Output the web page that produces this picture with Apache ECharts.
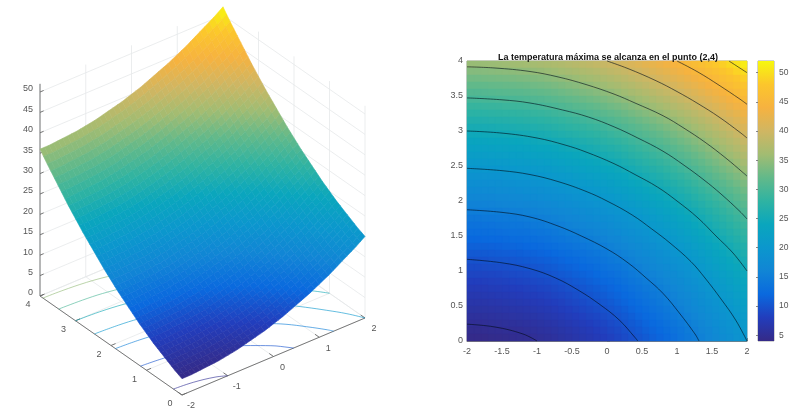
<!DOCTYPE html>
<html lang="en">
<head>
<meta charset="UTF-8">
<title>Temperatura</title>
<script src="https://cdn.jsdelivr.net/npm/echarts@6/dist/echarts.min.js"></script>
<style>
  html, body { margin: 0; padding: 0; background: #fff; }
  #chart { width: 800px; height: 419px; }
</style>
</head>
<body>
<div id="chart"></div>
<script>
const chartTitle = 'La temperatura máxima se alcanza en el punto (2,4)'
const xs = [-2,-1.9,-1.8,-1.7,-1.6,-1.5,-1.4,-1.3,-1.2,-1.1,-1,-0.9,-0.8,-0.7,-0.6,-0.5,-0.4,-0.3,-0.2,-0.1,0,0.1,0.2,0.3,0.4,0.5,0.6,0.7,0.8,0.9,1,1.1,1.2,1.3,1.4,1.5,1.6,1.7,1.8,1.9,2]
const ys = [0,0.1,0.2,0.3,0.4,0.5,0.6,0.7,0.8,0.9,1,1.1,1.2,1.3,1.4,1.5,1.6,1.7,1.8,1.9,2,2.1,2.2,2.3,2.4,2.5,2.6,2.7,2.8,2.9,3,3.1,3.2,3.3,3.4,3.5,3.6,3.7,3.8,3.9,4]
// one row per y
const temps = [
  [4,4,4,4.1,4.2,4.3,4.4,4.5,4.6,4.8,5,5.2,5.4,5.7,6,6.3,6.6,6.9,7.2,7.6,8,8.4,8.8,9.3,9.8,10.3,10.8,11.3,11.8,12.4,13,13.6,14.2,14.9,15.6,16.3,17,17.7,18.4,19.2,20],
  [4.4,4.4,4.4,4.5,4.6,4.7,4.8,4.9,5,5.2,5.4,5.6,5.8,6.1,6.4,6.7,7,7.3,7.6,8,8.4,8.8,9.2,9.7,10.2,10.7,11.2,11.7,12.2,12.8,13.4,14,14.6,15.3,16,16.7,17.4,18.1,18.8,19.6,20.4],
  [4.8,4.8,4.8,4.9,5,5.1,5.2,5.3,5.4,5.6,5.8,6,6.2,6.5,6.8,7.1,7.4,7.7,8,8.4,8.8,9.2,9.6,10.1,10.6,11.1,11.6,12.1,12.6,13.2,13.8,14.4,15,15.7,16.4,17.1,17.8,18.5,19.2,20,20.8],
  [5.3,5.3,5.3,5.4,5.5,5.6,5.7,5.8,5.9,6.1,6.3,6.5,6.7,7,7.3,7.6,7.9,8.2,8.5,8.9,9.3,9.7,10.1,10.6,11.1,11.6,12.1,12.6,13.1,13.7,14.3,14.9,15.5,16.2,16.9,17.6,18.3,19,19.7,20.5,21.3],
  [5.8,5.8,5.8,5.9,6,6.1,6.2,6.3,6.4,6.6,6.8,7,7.2,7.5,7.8,8.1,8.4,8.7,9,9.4,9.8,10.2,10.6,11.1,11.6,12.1,12.6,13.1,13.6,14.2,14.8,15.4,16,16.7,17.4,18.1,18.8,19.5,20.2,21,21.8],
  [6.3,6.3,6.3,6.4,6.5,6.6,6.7,6.8,6.9,7.1,7.3,7.5,7.7,8,8.3,8.6,8.9,9.2,9.5,9.9,10.3,10.7,11.1,11.6,12.1,12.6,13.1,13.6,14.1,14.7,15.3,15.9,16.5,17.2,17.9,18.6,19.3,20,20.7,21.5,22.3],
  [6.8,6.8,6.8,6.9,7,7.1,7.2,7.3,7.4,7.6,7.8,8,8.2,8.5,8.8,9.1,9.4,9.7,10,10.4,10.8,11.2,11.6,12.1,12.6,13.1,13.6,14.1,14.6,15.2,15.8,16.4,17,17.7,18.4,19.1,19.8,20.5,21.2,22,22.8],
  [7.3,7.3,7.3,7.4,7.5,7.6,7.7,7.8,7.9,8.1,8.3,8.5,8.7,9,9.3,9.6,9.9,10.2,10.5,10.9,11.3,11.7,12.1,12.6,13.1,13.6,14.1,14.6,15.1,15.7,16.3,16.9,17.5,18.2,18.9,19.6,20.3,21,21.7,22.5,23.3],
  [7.8,7.8,7.8,7.9,8,8.1,8.2,8.3,8.4,8.6,8.8,9,9.2,9.5,9.8,10.1,10.4,10.7,11,11.4,11.8,12.2,12.6,13.1,13.6,14.1,14.6,15.1,15.6,16.2,16.8,17.4,18,18.7,19.4,20.1,20.8,21.5,22.2,23,23.8],
  [8.4,8.4,8.4,8.5,8.6,8.7,8.8,8.9,9,9.2,9.4,9.6,9.8,10.1,10.4,10.7,11,11.3,11.6,12,12.4,12.8,13.2,13.7,14.2,14.7,15.2,15.7,16.2,16.8,17.4,18,18.6,19.3,20,20.7,21.4,22.1,22.8,23.6,24.4],
  [9,9,9,9.1,9.2,9.3,9.4,9.5,9.6,9.8,10,10.2,10.4,10.7,11,11.3,11.6,11.9,12.2,12.6,13,13.4,13.8,14.3,14.8,15.3,15.8,16.3,16.8,17.4,18,18.6,19.2,19.9,20.6,21.3,22,22.7,23.4,24.2,25],
  [9.6,9.6,9.6,9.7,9.8,9.9,10,10.1,10.2,10.4,10.6,10.8,11,11.3,11.6,11.9,12.2,12.5,12.8,13.2,13.6,14,14.4,14.9,15.4,15.9,16.4,16.9,17.4,18,18.6,19.2,19.8,20.5,21.2,21.9,22.6,23.3,24,24.8,25.6],
  [10.2,10.2,10.2,10.3,10.4,10.5,10.6,10.7,10.8,11,11.2,11.4,11.6,11.9,12.2,12.5,12.8,13.1,13.4,13.8,14.2,14.6,15,15.5,16,16.5,17,17.5,18,18.6,19.2,19.8,20.4,21.1,21.8,22.5,23.2,23.9,24.6,25.4,26.2],
  [10.9,10.9,10.9,11,11.1,11.2,11.3,11.4,11.5,11.7,11.9,12.1,12.3,12.6,12.9,13.2,13.5,13.8,14.1,14.5,14.9,15.3,15.7,16.2,16.7,17.2,17.7,18.2,18.7,19.3,19.9,20.5,21.1,21.8,22.5,23.2,23.9,24.6,25.3,26.1,26.9],
  [11.6,11.6,11.6,11.7,11.8,11.9,12,12.1,12.2,12.4,12.6,12.8,13,13.3,13.6,13.9,14.2,14.5,14.8,15.2,15.6,16,16.4,16.9,17.4,17.9,18.4,18.9,19.4,20,20.6,21.2,21.8,22.5,23.2,23.9,24.6,25.3,26,26.8,27.6],
  [12.3,12.3,12.3,12.4,12.5,12.6,12.7,12.8,12.9,13.1,13.3,13.5,13.7,14,14.3,14.6,14.9,15.2,15.5,15.9,16.3,16.7,17.1,17.6,18.1,18.6,19.1,19.6,20.1,20.7,21.3,21.9,22.5,23.2,23.9,24.6,25.3,26,26.7,27.5,28.3],
  [13,13,13,13.1,13.2,13.3,13.4,13.5,13.6,13.8,14,14.2,14.4,14.7,15,15.3,15.6,15.9,16.2,16.6,17,17.4,17.8,18.3,18.8,19.3,19.8,20.3,20.8,21.4,22,22.6,23.2,23.9,24.6,25.3,26,26.7,27.4,28.2,29],
  [13.7,13.7,13.7,13.8,13.9,14,14.1,14.2,14.3,14.5,14.7,14.9,15.1,15.4,15.7,16,16.3,16.6,16.9,17.3,17.7,18.1,18.5,19,19.5,20,20.5,21,21.5,22.1,22.7,23.3,23.9,24.6,25.3,26,26.7,27.4,28.1,28.9,29.7],
  [14.4,14.4,14.4,14.5,14.6,14.7,14.8,14.9,15,15.2,15.4,15.6,15.8,16.1,16.4,16.7,17,17.3,17.6,18,18.4,18.8,19.2,19.7,20.2,20.7,21.2,21.7,22.2,22.8,23.4,24,24.6,25.3,26,26.7,27.4,28.1,28.8,29.6,30.4],
  [15.2,15.2,15.2,15.3,15.4,15.5,15.6,15.7,15.8,16,16.2,16.4,16.6,16.9,17.2,17.5,17.8,18.1,18.4,18.8,19.2,19.6,20,20.5,21,21.5,22,22.5,23,23.6,24.2,24.8,25.4,26.1,26.8,27.5,28.2,28.9,29.6,30.4,31.2],
  [16,16,16,16.1,16.2,16.3,16.4,16.5,16.6,16.8,17,17.2,17.4,17.7,18,18.3,18.6,18.9,19.2,19.6,20,20.4,20.8,21.3,21.8,22.3,22.8,23.3,23.8,24.4,25,25.6,26.2,26.9,27.6,28.3,29,29.7,30.4,31.2,32],
  [16.8,16.8,16.8,16.9,17,17.1,17.2,17.3,17.4,17.6,17.8,18,18.2,18.5,18.8,19.1,19.4,19.7,20,20.4,20.8,21.2,21.6,22.1,22.6,23.1,23.6,24.1,24.6,25.2,25.8,26.4,27,27.7,28.4,29.1,29.8,30.5,31.2,32,32.8],
  [17.6,17.6,17.6,17.7,17.8,17.9,18,18.1,18.2,18.4,18.6,18.8,19,19.3,19.6,19.9,20.2,20.5,20.8,21.2,21.6,22,22.4,22.9,23.4,23.9,24.4,24.9,25.4,26,26.6,27.2,27.8,28.5,29.2,29.9,30.6,31.3,32,32.8,33.6],
  [18.5,18.5,18.5,18.6,18.7,18.8,18.9,19,19.1,19.3,19.5,19.7,19.9,20.2,20.5,20.8,21.1,21.4,21.7,22.1,22.5,22.9,23.3,23.8,24.3,24.8,25.3,25.8,26.3,26.9,27.5,28.1,28.7,29.4,30.1,30.8,31.5,32.2,32.9,33.7,34.5],
  [19.4,19.4,19.4,19.5,19.6,19.7,19.8,19.9,20,20.2,20.4,20.6,20.8,21.1,21.4,21.7,22,22.3,22.6,23,23.4,23.8,24.2,24.7,25.2,25.7,26.2,26.7,27.2,27.8,28.4,29,29.6,30.3,31,31.7,32.4,33.1,33.8,34.6,35.4],
  [20.3,20.3,20.3,20.4,20.5,20.6,20.7,20.8,20.9,21.1,21.3,21.5,21.7,22,22.3,22.6,22.9,23.2,23.5,23.9,24.3,24.7,25.1,25.6,26.1,26.6,27.1,27.6,28.1,28.7,29.3,29.9,30.5,31.2,31.9,32.6,33.3,34,34.7,35.5,36.3],
  [21.2,21.2,21.2,21.3,21.4,21.5,21.6,21.7,21.8,22,22.2,22.4,22.6,22.9,23.2,23.5,23.8,24.1,24.4,24.8,25.2,25.6,26,26.5,27,27.5,28,28.5,29,29.6,30.2,30.8,31.4,32.1,32.8,33.5,34.2,34.9,35.6,36.4,37.2],
  [22.1,22.1,22.1,22.2,22.3,22.4,22.5,22.6,22.7,22.9,23.1,23.3,23.5,23.8,24.1,24.4,24.7,25,25.3,25.7,26.1,26.5,26.9,27.4,27.9,28.4,28.9,29.4,29.9,30.5,31.1,31.7,32.3,33,33.7,34.4,35.1,35.8,36.5,37.3,38.1],
  [23,23,23,23.1,23.2,23.3,23.4,23.5,23.6,23.8,24,24.2,24.4,24.7,25,25.3,25.6,25.9,26.2,26.6,27,27.4,27.8,28.3,28.8,29.3,29.8,30.3,30.8,31.4,32,32.6,33.2,33.9,34.6,35.3,36,36.7,37.4,38.2,39],
  [24,24,24,24.1,24.2,24.3,24.4,24.5,24.6,24.8,25,25.2,25.4,25.7,26,26.3,26.6,26.9,27.2,27.6,28,28.4,28.8,29.3,29.8,30.3,30.8,31.3,31.8,32.4,33,33.6,34.2,34.9,35.6,36.3,37,37.7,38.4,39.2,40],
  [25,25,25,25.1,25.2,25.3,25.4,25.5,25.6,25.8,26,26.2,26.4,26.7,27,27.3,27.6,27.9,28.2,28.6,29,29.4,29.8,30.3,30.8,31.3,31.8,32.3,32.8,33.4,34,34.6,35.2,35.9,36.6,37.3,38,38.7,39.4,40.2,41],
  [26,26,26,26.1,26.2,26.3,26.4,26.5,26.6,26.8,27,27.2,27.4,27.7,28,28.3,28.6,28.9,29.2,29.6,30,30.4,30.8,31.3,31.8,32.3,32.8,33.3,33.8,34.4,35,35.6,36.2,36.9,37.6,38.3,39,39.7,40.4,41.2,42],
  [27,27,27,27.1,27.2,27.3,27.4,27.5,27.6,27.8,28,28.2,28.4,28.7,29,29.3,29.6,29.9,30.2,30.6,31,31.4,31.8,32.3,32.8,33.3,33.8,34.3,34.8,35.4,36,36.6,37.2,37.9,38.6,39.3,40,40.7,41.4,42.2,43],
  [28.1,28.1,28.1,28.2,28.3,28.4,28.5,28.6,28.7,28.9,29.1,29.3,29.5,29.8,30.1,30.4,30.7,31,31.3,31.7,32.1,32.5,32.9,33.4,33.9,34.4,34.9,35.4,35.9,36.5,37.1,37.7,38.3,39,39.7,40.4,41.1,41.8,42.5,43.3,44.1],
  [29.2,29.2,29.2,29.3,29.4,29.5,29.6,29.7,29.8,30,30.2,30.4,30.6,30.9,31.2,31.5,31.8,32.1,32.4,32.8,33.2,33.6,34,34.5,35,35.5,36,36.5,37,37.6,38.2,38.8,39.4,40.1,40.8,41.5,42.2,42.9,43.6,44.4,45.2],
  [30.3,30.3,30.3,30.4,30.5,30.6,30.7,30.8,30.9,31.1,31.3,31.5,31.7,32,32.3,32.6,32.9,33.2,33.5,33.9,34.3,34.7,35.1,35.6,36.1,36.6,37.1,37.6,38.1,38.7,39.3,39.9,40.5,41.2,41.9,42.6,43.3,44,44.7,45.5,46.3],
  [31.4,31.4,31.4,31.5,31.6,31.7,31.8,31.9,32,32.2,32.4,32.6,32.8,33.1,33.4,33.7,34,34.3,34.6,35,35.4,35.8,36.2,36.7,37.2,37.7,38.2,38.7,39.2,39.8,40.4,41,41.6,42.3,43,43.7,44.4,45.1,45.8,46.6,47.4],
  [32.5,32.5,32.5,32.6,32.7,32.8,32.9,33,33.1,33.3,33.5,33.7,33.9,34.2,34.5,34.8,35.1,35.4,35.7,36.1,36.5,36.9,37.3,37.8,38.3,38.8,39.3,39.8,40.3,40.9,41.5,42.1,42.7,43.4,44.1,44.8,45.5,46.2,46.9,47.7,48.5],
  [33.6,33.6,33.6,33.7,33.8,33.9,34,34.1,34.2,34.4,34.6,34.8,35,35.3,35.6,35.9,36.2,36.5,36.8,37.2,37.6,38,38.4,38.9,39.4,39.9,40.4,40.9,41.4,42,42.6,43.2,43.8,44.5,45.2,45.9,46.6,47.3,48,48.8,49.6],
  [34.8,34.8,34.8,34.9,35,35.1,35.2,35.3,35.4,35.6,35.8,36,36.2,36.5,36.8,37.1,37.4,37.7,38,38.4,38.8,39.2,39.6,40.1,40.6,41.1,41.6,42.1,42.6,43.2,43.8,44.4,45,45.7,46.4,47.1,47.8,48.5,49.2,50,50.8],
  [36,36,36,36.1,36.2,36.3,36.4,36.5,36.6,36.8,37,37.2,37.4,37.7,38,38.3,38.6,38.9,39.2,39.6,40,40.4,40.8,41.3,41.8,42.3,42.8,43.3,43.8,44.4,45,45.6,46.2,46.9,47.6,48.3,49,49.7,50.4,51.2,52]
]
const contourLevels = [5, 10, 15, 20, 25, 30, 35, 40, 45, 50]
const tickX3d = [-2, -1, 0, 1, 2]
const tickY3d = [0, 1, 2, 3, 4]
const tickZ3d = [0, 5, 10, 15, 20, 25, 30, 35, 40, 45, 50]
const colorbarTicks = [5, 10, 15, 20, 25, 30, 35, 40, 45, 50]
const parula = ['#352a87', '#223dbc', '#0a69de', '#1185d5', '#0b97cd', '#0aa6bd', '#2fb3a2', '#62b98a', '#a2bc72', '#d0b662', '#f6b240', '#fcc62c', '#f6f80e']
const tempMin = 4
const tempMax = 52

const font = '"Liberation Sans", Arial, sans-serif'
const textColor = '#555'
const gridColor = '#e6e8ea'
const axisColor = '#6a6a6a'

function colorOf (t) {
  return echarts.color.lerp((t - tempMin) / (tempMax - tempMin), parula)
}

// the 3d box is an orthographic view, flattened on to a screen sized plane
function project (x, y, z) {
  return [
    182 + (x + 2) * 45.75 - y * 35.5,
    395 - (x + 2) * 19.25 - y * 24.75 - z * 4.08
  ]
}

// marching squares over the table, returns the crossings along one level
function contourPoints (level) {
  const seen = {}
  for (let j = 0; j < ys.length; j++) {
    for (let i = 0; i < xs.length; i++) {
      const v = temps[j][i]
      if (i + 1 < xs.length && (v >= level) !== (temps[j][i + 1] >= level)) {
        const f = (level - v) / (temps[j][i + 1] - v)
        const px = xs[i] + f * (xs[i + 1] - xs[i])
        seen[px.toFixed(3) + ',' + ys[j]] = [px, ys[j]]
      }
      if (j + 1 < ys.length && (v >= level) !== (temps[j + 1][i] >= level)) {
        const f = (level - v) / (temps[j + 1][i] - v)
        const py = ys[j] + f * (ys[j + 1] - ys[j])
        seen[xs[i] + ',' + py.toFixed(3)] = [xs[i], py]
      }
    }
  }
  // the curves all fall to the right, so this walks along them
  const pts = Object.values(seen).sort((a, b) => (a[0] - a[1]) - (b[0] - b[1]))
  // the table is rounded, thin the points out so the curve does not wobble
  return pts.filter((p, k) => k % 5 === 0 || k === pts.length - 1)
}

const contours = contourLevels.map(level => ({ level: level, points: contourPoints(level) }))

// cells, far corner first so nearer ones paint over
const cells = []
for (let j = ys.length - 2; j >= 0; j--) {
  for (let i = xs.length - 2; i >= 0; i--) cells.push([i, j])
}

// box lines [x1, y1, z1, x2, y2, z2]
const boxGrid = []
tickZ3d.forEach(z => {
  boxGrid.push([-2, 4, z, 2, 4, z])
  boxGrid.push([2, 4, z, 2, 0, z])
})
tickX3d.forEach(x => {
  boxGrid.push([x, 0, 0, x, 4, 0])
  boxGrid.push([x, 4, 0, x, 4, tempMax])
})
tickY3d.forEach(y => {
  boxGrid.push([-2, y, 0, 2, y, 0])
  boxGrid.push([2, y, 0, 2, y, tempMax])
})

const boxAxes = [
  [-2, 4, 0, -2, 4, tempMax],
  [-2, 0, 0, 2, 0, 0],
  [-2, 0, 0, -2, 4, 0]
]
tickZ3d.forEach(z => boxAxes.push([-2, 4, z, -1.92, 4, z]))
tickX3d.forEach(x => boxAxes.push([x, 0, 0, x, 0.12, 0]))
tickY3d.forEach(y => boxAxes.push([-2, y, 0, -1.9, y, 0]))

const boxLabels = []
tickX3d.forEach(x => boxLabels.push([x, 0, 0, 9, 11, String(x), 'center']))
tickY3d.forEach(y => boxLabels.push([-2, y, 0, -12, 9, String(y), 'center']))
tickZ3d.forEach(z => boxLabels.push([-2, 4, z, -7, -3, String(z), 'right']))

function boxLineSeries (data, color, width) {
  return {
    type: 'custom',
    xAxisIndex: 0,
    yAxisIndex: 0,
    silent: true,
    data: data,
    renderItem: function (params, api) {
      const a = api.coord(project(api.value(0), api.value(1), api.value(2)))
      const b = api.coord(project(api.value(3), api.value(4), api.value(5)))
      return {
        type: 'line',
        shape: { x1: a[0], y1: a[1], x2: b[0], y2: b[1] },
        style: { stroke: color, lineWidth: width }
      }
    }
  }
}

const floorContourSeries = contours.map(c => ({
  type: 'line',
  xAxisIndex: 0,
  yAxisIndex: 0,
  silent: true,
  showSymbol: false,
  smooth: 0.4,
  data: c.points.map(p => project(p[0], p[1], 0)),
  lineStyle: { color: colorOf(c.level), width: 0.9, opacity: 0.7 }
}))

const mapContourSeries = contours.map(c => ({
  type: 'line',
  xAxisIndex: 1,
  yAxisIndex: 1,
  silent: true,
  showSymbol: false,
  smooth: 0.4,
  z: 3,
  data: c.points,
  lineStyle: { color: 'rgba(0,12,24,0.75)', width: 0.8 }
}))

const option = {
  backgroundColor: '#fff',
  animation: false,
  title: {
    text: chartTitle,
    left: 603,
    top: 48,
    textAlign: 'center',
    textStyle: { fontFamily: font, fontSize: 9, fontWeight: 'bold', color: '#111' }
  },
  grid: [
    { left: 0, top: 0, width: 400, height: 419 },
    { left: 467, top: 61, width: 280, height: 280, show: true, borderColor: axisColor, borderWidth: 0.6, backgroundColor: 'transparent' },
    { left: 758, top: 61, width: 16, height: 280, show: true, borderColor: axisColor, borderWidth: 0.6, backgroundColor: 'transparent' }
  ],
  xAxis: [
    { type: 'value', gridIndex: 0, min: 0, max: 400, show: false },
    {
      type: 'value', gridIndex: 1, min: -2, max: 2, interval: 0.5,
      splitLine: { show: false },
      axisLine: { lineStyle: { color: axisColor, width: 0.8 } },
      axisTick: { inside: true, length: 3, lineStyle: { color: axisColor, width: 0.8 } },
      axisLabel: { color: textColor, fontFamily: font, fontSize: 9, margin: 6 }
    },
    { type: 'value', gridIndex: 2, min: 0, max: 1, show: false }
  ],
  yAxis: [
    { type: 'value', gridIndex: 0, min: 0, max: 419, inverse: true, show: false },
    {
      type: 'value', gridIndex: 1, min: 0, max: 4, interval: 0.5,
      splitLine: { show: false },
      axisLine: { lineStyle: { color: axisColor, width: 0.8 } },
      axisTick: { inside: true, length: 3, lineStyle: { color: axisColor, width: 0.8 } },
      axisLabel: { color: textColor, fontFamily: font, fontSize: 9, margin: 4 }
    },
    {
      type: 'value', gridIndex: 2, min: tempMin, max: tempMax, position: 'right',
      splitLine: { show: false },
      axisLine: { show: false },
      axisTick: { inside: true, length: 2, lineStyle: { color: axisColor, width: 0.8 }, customValues: colorbarTicks },
      axisLabel: { color: textColor, fontFamily: font, fontSize: 8.5, margin: 5, customValues: colorbarTicks }
    }
  ],
  series: [
    Object.assign(boxLineSeries(boxGrid, gridColor, 0.8), { z: 1 }),
    Object.assign(boxLineSeries(boxAxes, axisColor, 0.9), { z: 2 }),
    {
      type: 'custom',
      xAxisIndex: 0,
      yAxisIndex: 0,
      silent: true,
      z: 2,
      data: boxLabels,
      renderItem: function (params, api) {
        const p = api.coord(project(api.value(0), api.value(1), api.value(2)))
        const row = boxLabels[params.dataIndex]
        return {
          type: 'text',
          style: {
            x: p[0] + row[3],
            y: p[1] + row[4],
            text: row[5],
            textAlign: row[6],
            textVerticalAlign: 'middle',
            fill: textColor,
            font: '9px ' + font
          }
        }
      }
    },
    // surface
    {
      type: 'custom',
      xAxisIndex: 0,
      yAxisIndex: 0,
      silent: true,
      z: 3,
      data: cells,
      renderItem: function (params, api) {
        const i = api.value(0)
        const j = api.value(1)
        const points = [[i, j], [i + 1, j], [i + 1, j + 1], [i, j + 1]].map(c =>
          api.coord(project(xs[c[0]], ys[c[1]], temps[c[1]][c[0]])))
        const mean = (temps[j][i] + temps[j][i + 1] + temps[j + 1][i] + temps[j + 1][i + 1]) / 4
        const c = colorOf(mean)
        return {
          type: 'polygon',
          shape: { points: points },
          style: { fill: c, stroke: c, lineWidth: 0.6 }
        }
      }
    },
    // flat map
    {
      type: 'custom',
      xAxisIndex: 1,
      yAxisIndex: 1,
      silent: true,
      z: 2,
      data: cells,
      renderItem: function (params, api) {
        const i = api.value(0)
        const j = api.value(1)
        const a = api.coord([xs[i], ys[j + 1]])
        const b = api.coord([xs[i + 1], ys[j]])
        const mean = (temps[j][i] + temps[j][i + 1] + temps[j + 1][i] + temps[j + 1][i + 1]) / 4
        const c = colorOf(mean)
        return {
          type: 'rect',
          shape: { x: a[0], y: a[1], width: b[0] - a[0], height: b[1] - a[1] },
          style: { fill: c, stroke: c, lineWidth: 0.5 }
        }
      }
    },
    // colour bar
    {
      type: 'custom',
      xAxisIndex: 2,
      yAxisIndex: 2,
      silent: true,
      data: [[0, tempMax, 1, tempMin]],
      renderItem: function (params, api) {
        const a = api.coord([api.value(0), api.value(1)])
        const b = api.coord([api.value(2), api.value(3)])
        const stops = parula.map((c, k) => ({ offset: 1 - k / (parula.length - 1), color: c })).reverse()
        return {
          type: 'rect',
          shape: { x: a[0], y: a[1], width: b[0] - a[0], height: b[1] - a[1] },
          style: { fill: new echarts.graphic.LinearGradient(0, 0, 0, 1, stops) }
        }
      }
    }
  ].concat(floorContourSeries.map(s => Object.assign(s, { z: 2 })), mapContourSeries)
}

const chart = echarts.init(document.getElementById('chart'))
chart.setOption(option)
</script>
</body>
</html>
